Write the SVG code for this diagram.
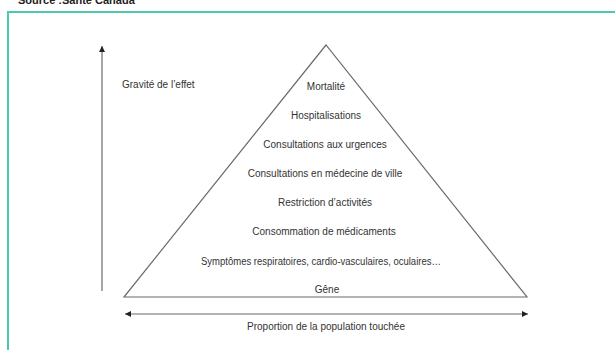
<svg xmlns="http://www.w3.org/2000/svg" width="615" height="350" viewBox="0 0 615 350">
<style>
.t{font-family:"Liberation Sans",Arial,sans-serif;font-size:10px;fill:#333;text-anchor:middle}
.ln{stroke:#6b6b6b;stroke-width:1.2;fill:none}
</style>
<defs>
<marker id="ah" viewBox="0 0 10 10" refX="10" refY="5" markerWidth="6" markerHeight="6" orient="auto-start-reverse" markerUnits="userSpaceOnUse">
<path d="M0,0 L10,5 L0,10 z" fill="#222"/>
</marker>
</defs>
<rect width="615" height="350" fill="#fff"/>
<text x="18" y="4" font-family="Liberation Sans,Arial,sans-serif" font-size="11" font-weight="bold" fill="#222">Source :Santé Canada</text>
<path d="M8,350 V12 H615" stroke="#4cc8b2" stroke-width="2" fill="none"/>
<g id="pyramid">
<polygon class="ln" points="326,45 124,297 527,297"/>
</g>
<g id="levels">
<text class="t" x="326" y="90">Mortalité</text>
<text class="t" x="326" y="119">Hospitalisations</text>
<text class="t" x="325" y="148">Consultations aux urgences</text>
<text class="t" x="325" y="177">Consultations en médecine de ville</text>
<text class="t" x="325" y="206">Restriction d’activités</text>
<text class="t" x="324" y="235">Consommation de médicaments</text>
<text class="t" x="321" y="265" textLength="240" lengthAdjust="spacingAndGlyphs">Symptômes respiratoires, cardio-vasculaires, oculaires…</text>
<text class="t" x="327" y="293">Gêne</text>
</g>
<g id="connectors">
<line class="ln" x1="102" y1="291" x2="102" y2="46" marker-end="url(#ah)"/>
<line class="ln" x1="125" y1="314" x2="528" y2="314" marker-start="url(#ah)" marker-end="url(#ah)"/>
</g>
<g id="labels">
<text class="t" x="122" y="88" style="text-anchor:start">Gravité de l’effet</text>
<text class="t" x="326" y="330">Proportion de la population touchée</text>
</g>
</svg>
